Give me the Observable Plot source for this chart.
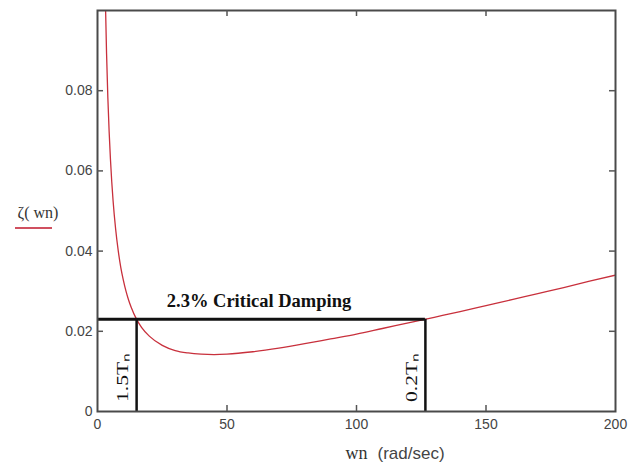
<!DOCTYPE html>
<html><head><meta charset="utf-8">
<script src="https://cdn.jsdelivr.net/npm/d3@7"></script>
<script src="https://cdn.jsdelivr.net/npm/@observablehq/plot@0.6"></script>
<style>body{margin:0;background:#fff;}</style>
</head><body><div id="chart"></div>
<script>
// Damping ratio curve zeta(wn)
const omega = [3, 3.5, 4, 4.5, 5, 5.5, 6, 7, 8, 9, 10, 11, 12, 13, 15, 17, 20, 25, 30, 35, 40, 45, 50, 60, 70, 80, 90, 100, 110, 120, 130, 140, 150, 160, 170, 180, 190, 200];
const zeta  = [0.1039, 0.0892, 0.0782, 0.0697, 0.0629, 0.0573, 0.0527, 0.0455, 0.0401, 0.0359, 0.0327, 0.0300, 0.0278, 0.0260, 0.0231, 0.0210, 0.0188, 0.0165, 0.0152, 0.0146, 0.0143, 0.0142, 0.0143, 0.0149, 0.0158, 0.0169, 0.0181, 0.0193, 0.0207, 0.0221, 0.0235, 0.0249, 0.0264, 0.0279, 0.0294, 0.0309, 0.0325, 0.0340];
const targetDamping = 0.023;
const bandOmega = [15.1, 126.6];
const bandLabels = ["1.5T\u2099", "0.2T\u2099"];
const annotation = ["2.3% Critical Damping"];
const xTicks = [0, 50, 100, 150, 200];
const yTicks = [0, 0.02, 0.04, 0.06, 0.08];
const xDomain = [0, 200];
const yDomain = [0, 0.1];
const yLabel = ["\u03B6( wn)"];
const xLabelVar = ["wn"];
const xLabelUnit = ["(rad/sec)"];

const W = 631, H = 468, mL = 97, mR = 16, mT = 10, mB = 57;
const innerW = W - mL - mR, innerH = H - mT - mB, tickLen = 6;
const data = omega.map((w, i) => ({w, z: zeta[i]}));
const bands = bandOmega.map((w, i) => ({w, label: bandLabels[i]}));
const inner = xTicks.slice(1, -1);
const innerY = yTicks.slice(1);
const tickStyle = {stroke: "#555", strokeWidth: 1.5};
const serif = "Liberation Serif, Times New Roman, serif";

const chart = Plot.plot({
  width: W, height: H,
  marginLeft: mL, marginRight: mR, marginTop: mT, marginBottom: mB,
  x: {domain: xDomain},
  y: {domain: yDomain},
  style: {fontFamily: "Liberation Sans, Arial, sans-serif", fontSize: "14px", color: "#444", background: "#fff"},
  marks: [
    Plot.line(data, {x: "w", y: "z", stroke: "#c8303c", strokeWidth: 1.3, curve: "monotone-x", clip: true}),
    Plot.ruleY([targetDamping], {x1: xDomain[0], x2: bandOmega[1], stroke: "#111", strokeWidth: 3}),
    Plot.ruleX(bands, {x: "w", y1: yDomain[0], y2: targetDamping, stroke: "#111", strokeWidth: 2.5}),
    Plot.frame({stroke: "#4a4a4a", strokeWidth: 2}),
    Plot.tickX(inner, {x: d => d, insetTop: innerH - tickLen, ...tickStyle}),
    Plot.tickX(inner, {x: d => d, insetBottom: innerH - tickLen, ...tickStyle}),
    Plot.tickY(innerY, {y: d => d, insetRight: innerW - tickLen, ...tickStyle}),
    Plot.tickY(innerY, {y: d => d, insetLeft: innerW - tickLen, ...tickStyle}),
    Plot.axisX(xTicks, {tickSize: 0, tickPadding: 8, label: null}),
    Plot.axisY(yTicks, {tickSize: 0, tickPadding: 5, label: null, tickFormat: d => d === 0 ? "0" : d.toFixed(2)}),
    Plot.text(annotation, {x: d3.mean(bandOmega), y: targetDamping, dx: -22, dy: -18, fontFamily: serif, fontWeight: "bold", fontSize: 18.5, fill: "#111"}),
    Plot.text(bands, {x: "w", y: targetDamping / 2, text: "label", rotate: -90, dx: -14, dy: 12, fontFamily: serif, fontSize: 16, fill: "#111"}),
    Plot.text(yLabel, {frameAnchor: "left", dx: -80, dy: 2, textAnchor: "start", fontFamily: serif, fontSize: 16, fill: "#333"}),
    Plot.text(xLabelVar, {frameAnchor: "bottom", dx: 0, dy: 47, fontFamily: serif, fontSize: 18, fill: "#333"}),
    Plot.text(xLabelUnit, {frameAnchor: "bottom", dx: 21, dy: 47, textAnchor: "start", fontSize: 17, fill: "#444"})
  ]
});
document.getElementById("chart").appendChild(chart);
// stretch the rotated period labels along their length, as in the reference
d3.select(chart).selectAll("text").filter(function() { return bandLabels.includes(this.textContent); })
  .attr("transform", function() { return this.getAttribute("transform") + " scale(1.35,1)"; });
// legend swatch under the y label
d3.select(chart).append("line")
  .attr("x1", 15).attr("x2", 52).attr("y1", 228).attr("y2", 228)
  .attr("stroke", "#d05060").attr("stroke-width", 2);
</script>
</body></html>
